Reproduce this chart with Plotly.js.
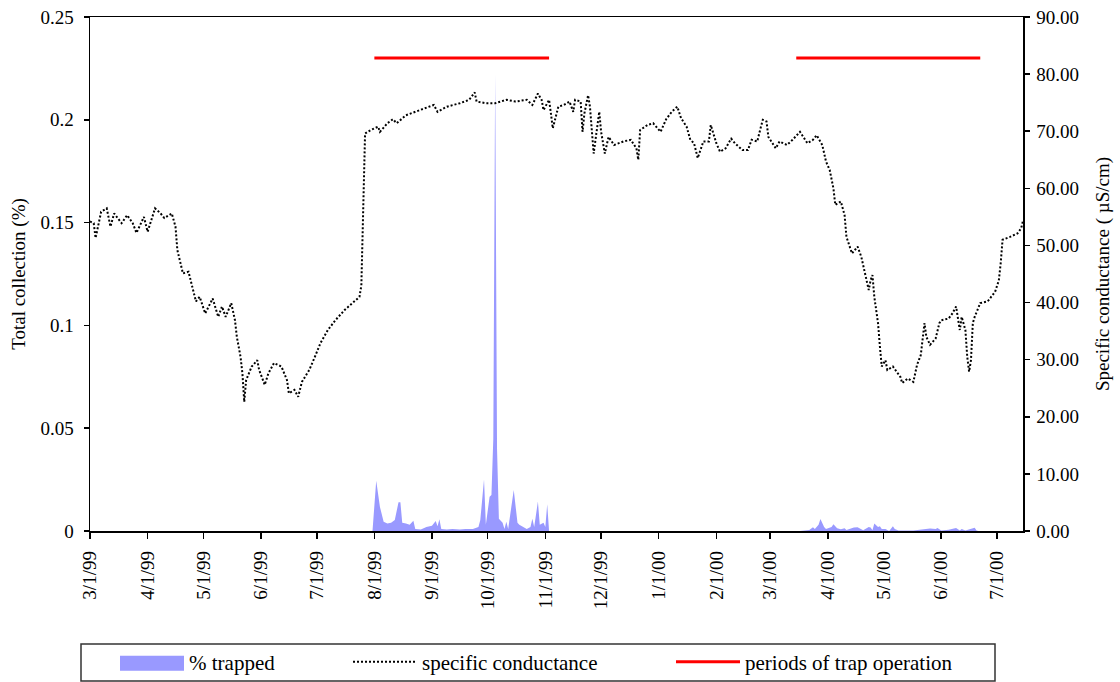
<!DOCTYPE html>
<html><head><meta charset="utf-8">
<script src="https://cdn.plot.ly/plotly-3.0.1.min.js"></script>
<style>html,body{margin:0;padding:0;background:#fff}#chart{width:1120px;height:682px}</style>
</head><body><div id="chart"></div><script>
// ---- data ----
const condDates = ['1999-03-01','1999-03-03','1999-03-04','1999-03-07','1999-03-10','1999-03-12','1999-03-14','1999-03-18','1999-03-21','1999-03-24','1999-03-26','1999-03-30',
'1999-04-01','1999-04-05','1999-04-08','1999-04-10','1999-04-14','1999-04-16','1999-04-17','1999-04-20','1999-04-23','1999-04-25','1999-04-27','1999-04-29',
'1999-05-02','1999-05-06','1999-05-09','1999-05-11','1999-05-13','1999-05-16','1999-05-18','1999-05-19','1999-05-21','1999-05-22','1999-05-23','1999-05-24','1999-05-27','1999-05-30','1999-05-31',
'1999-06-03','1999-06-05','1999-06-08','1999-06-12','1999-06-15','1999-06-16','1999-06-19','1999-06-21','1999-06-23','1999-06-27','1999-06-30',
'1999-07-03','1999-07-07','1999-07-11','1999-07-16','1999-07-20','1999-07-24','1999-07-25','1999-07-26','1999-07-27','1999-07-30',
'1999-08-03','1999-08-04','1999-08-08','1999-08-11','1999-08-13','1999-08-18','1999-08-26',
'1999-09-02','1999-09-04','1999-09-09','1999-09-16','1999-09-21','1999-09-24','1999-09-25','1999-09-30',
'1999-10-05','1999-10-11','1999-10-16','1999-10-22','1999-10-25','1999-10-28','1999-10-30','1999-10-31',
'1999-11-03','1999-11-04','1999-11-05','1999-11-08','1999-11-11','1999-11-14','1999-11-16','1999-11-17','1999-11-20','1999-11-21','1999-11-22','1999-11-24','1999-11-25','1999-11-27','1999-11-28','1999-11-29','1999-11-30',
'1999-12-01','1999-12-03','1999-12-05','1999-12-08','1999-12-13','1999-12-17','1999-12-20','1999-12-21','1999-12-22','1999-12-26','1999-12-29',
'2000-01-02','2000-01-05','2000-01-08','2000-01-11','2000-01-13','2000-01-16','2000-01-18','2000-01-20','2000-01-22','2000-01-25','2000-01-28','2000-01-29',
'2000-02-01','2000-02-03','2000-02-06','2000-02-09','2000-02-11','2000-02-15','2000-02-18','2000-02-20','2000-02-23','2000-02-25','2000-02-26','2000-02-28','2000-02-29',
'2000-03-04','2000-03-06','2000-03-10','2000-03-13','2000-03-17','2000-03-20','2000-03-21','2000-03-24','2000-03-26','2000-03-29','2000-03-31',
'2000-04-02','2000-04-04','2000-04-05','2000-04-08','2000-04-10','2000-04-11','2000-04-14','2000-04-17','2000-04-19','2000-04-21','2000-04-23','2000-04-24','2000-04-25','2000-04-26','2000-04-28','2000-04-29','2000-04-30',
'2000-05-02','2000-05-03','2000-05-06','2000-05-10','2000-05-11','2000-05-14','2000-05-17','2000-05-19','2000-05-21','2000-05-23','2000-05-24','2000-05-26','2000-05-29','2000-05-31',
'2000-06-01','2000-06-05','2000-06-07','2000-06-09','2000-06-11','2000-06-12','2000-06-14','2000-06-15','2000-06-16','2000-06-17','2000-06-18','2000-06-19','2000-06-22','2000-06-26','2000-06-30',
'2000-07-02','2000-07-03','2000-07-04','2000-07-08','2000-07-12','2000-07-14','2000-07-15'];
const condValues = [54.2,53.9,51.3,55.9,56.5,53.3,55.6,53.9,55.3,53.9,52.2,55.0,
52.4,56.5,55.6,54.8,55.6,53.3,49.2,45.1,45.4,42.8,40.2,41.0,
38.1,40.7,37.5,39.3,37.5,39.9,36.9,34.0,30.5,27.6,22.6,26.4,28.8,29.9,28.2,
25.6,27.6,29.4,28.8,26.4,24.1,24.7,23.5,26.1,28.2,30.5,
32.9,35.2,36.9,38.7,39.9,41.0,43.0,55.6,69.6,70.2,
70.8,69.9,71.4,72.1,71.4,72.8,73.8,
74.6,73.4,74.3,74.9,75.5,76.8,75.2,74.9,
74.9,75.5,75.2,75.5,74.6,76.6,75.5,73.7,
75.5,73.1,70.5,74.3,74.6,75.2,73.4,75.5,75.2,69.9,73.1,76.3,74.3,66.1,68.5,71.4,73.4,
69.9,66.1,69.0,67.6,68.2,68.5,67.0,65.0,70.2,71.1,71.4,
69.9,72.1,73.4,74.3,72.3,70.8,68.5,67.9,65.3,68.2,68.2,71.1,
67.9,66.4,67.0,68.7,67.9,66.7,66.7,68.5,68.2,70.8,72.0,71.7,69.0,
67.0,68.2,67.6,68.5,69.9,68.5,67.9,68.5,69.3,67.6,64.7,
63.2,60.0,57.1,57.7,55.3,51.5,48.6,49.8,48.0,45.1,42.2,43.9,44.8,41.0,36.4,32.3,28.8,
29.9,28.2,28.8,27.0,25.9,26.7,26.1,29.1,30.8,36.4,34.0,32.6,33.7,36.4,
36.9,37.2,38.1,39.3,35.2,37.5,35.2,30.5,27.9,29.9,36.4,37.5,39.9,40.2,41.9,
43.9,46.9,51.0,51.5,52.1,53.0,54.3];

const trapDates = ['1999-07-31','1999-08-02','1999-08-04','1999-08-06','1999-08-08','1999-08-10','1999-08-12','1999-08-14','1999-08-15','1999-08-16','1999-08-18','1999-08-20','1999-08-22','1999-08-23','1999-08-26','1999-08-29',
'1999-09-01','1999-09-03','1999-09-04','1999-09-05','1999-09-06','1999-09-09','1999-09-12','1999-09-16','1999-09-19','1999-09-23','1999-09-26','1999-09-27','1999-09-29','1999-09-30',
'1999-10-02','1999-10-03','1999-10-04','1999-10-05','1999-10-06','1999-10-07','1999-10-09','1999-10-10','1999-10-11','1999-10-12','1999-10-15','1999-10-17','1999-10-18','1999-10-22','1999-10-24','1999-10-25','1999-10-26','1999-10-28','1999-10-29','1999-10-31',
'1999-11-01','1999-11-02','1999-11-03',
'2000-03-17','2000-03-22','2000-03-24','2000-03-25','2000-03-27','2000-03-28','2000-03-30','2000-03-31',
'2000-04-03','2000-04-04','2000-04-06','2000-04-08','2000-04-10','2000-04-11','2000-04-15','2000-04-17','2000-04-19','2000-04-20','2000-04-23','2000-04-24','2000-04-25','2000-04-26','2000-04-28','2000-04-29','2000-04-30',
'2000-05-02','2000-05-04','2000-05-06','2000-05-07','2000-05-09','2000-05-17','2000-05-24','2000-05-26','2000-05-29','2000-05-30',
'2000-06-01','2000-06-05','2000-06-09','2000-06-11','2000-06-12','2000-06-14','2000-06-19','2000-06-20','2000-06-21'];
const trapValues = [0,0.0245,0.0117,0.0045,0.0037,0.004,0.0054,0.014,0.014,0.004,0.0037,0.003,0.005,0.001,0.0007,0.002,
0.0025,0.0049,0.0023,0.0057,0.001,0.0007,0.001,0.0007,0.001,0.001,0.002,0.0053,0.025,0.003,
0.0167,0.0175,0.045,0.222,0.04,0.006,0.004,0.001,0.0045,0.001,0.02,0.004,0.003,0.001,0.002,0.006,0.002,0.0143,0.003,0.004,
0.002,0.013,0,
0,0.0005,0.0018,0.001,0.003,0.0058,0.002,0.001,
0.002,0.0033,0.0013,0.0008,0.0013,0.0005,0.0017,0.0018,0.001,0.0004,0.0019,0.0017,0.0004,0.0037,0.002,0.0023,0.001,
0.001,0,0.0023,0.001,0.0002,0.0002,0.001,0.0012,0.001,0.0015,
0.0002,0.0006,0.0015,0.0003,0.001,0.0002,0.0016,0.0002,0];

const periodDates = ['1999-08-01','1999-11-03',null,'2000-03-15','2000-06-22'];
const periodLevel = [0.23,0.23,null,0.23,0.23];

const seriesNames = ['% trapped','specific conductance','periods of trap operation'];
const axisTitles = ['Total collection (%)','Specific conductance ( µS/cm)'];
// -------------------------------------

const FONT = 'Liberation Serif, Times New Roman, serif';

const traces = [
  {type:'scatter', mode:'lines', x:trapDates, y:trapValues, name:seriesNames[0],
   fill:'tozeroy', fillcolor:'#9999ff', line:{width:0, color:'#9999ff'}, yaxis:'y', legend:'legend'},
  {type:'scatter', mode:'lines', x:condDates, y:condValues, name:seriesNames[1],
   line:{color:'#000', width:2, dash:'2px,2px'}, yaxis:'y2', legend:'legend2'},
  {type:'scatter', mode:'lines', x:periodDates, y:periodLevel, name:seriesNames[2],
   line:{color:'#ff0000', width:3}, yaxis:'y', connectgaps:false, legend:'legend3'}
];

const legY = (531-662)/514;
const baseLeg = {orientation:'h', xanchor:'left', yanchor:'middle', y:legY, bgcolor:'rgba(0,0,0,0)',
  borderwidth:0, font:{family:FONT, size:21, color:'#000'}, itemwidth:64};

const layout = {
  width:1120, height:682,
  margin:{l:90, r:97, t:17, b:151, autoexpand:false},
  paper_bgcolor:'#fff', plot_bgcolor:'#fff',
  font:{family:FONT, size:19, color:'#000'},
  showlegend:true,
  xaxis:{type:'date', range:['1999-03-01','2000-07-15'], tick0:'1999-03-01', dtick:'M1',
    tickformat:'%-m/%-d/%y', tickangle:-90, ticks:'outside', ticklen:6, tickwidth:1.5, tickcolor:'#000',
    ticklabelstandoff:5,
    showline:true, linecolor:'#000', linewidth:1.5, mirror:true, showgrid:false, zeroline:false,
    tickfont:{family:FONT, size:19, color:'#000'}},
  yaxis:{range:[0,0.25], tick0:0, dtick:0.05, ticks:'outside', ticklen:5, tickwidth:1.5, tickcolor:'#000',
    ticklabelstandoff:6,
    showline:true, linecolor:'#000', linewidth:1.5, showgrid:false, zeroline:false,
    tickfont:{family:FONT, size:19, color:'#000'},
    title:{text:axisTitles[0], font:{family:FONT, size:19, color:'#000'}, standoff:10}},
  yaxis2:{overlaying:'y', side:'right', range:[0,90], tick0:0, dtick:10, tickformat:'.2f',
    ticks:'outside', ticklen:5, tickwidth:1.5, tickcolor:'#000', ticklabelstandoff:3,
    showline:true, linecolor:'#000', linewidth:1.5, showgrid:false, zeroline:false,
    tickfont:{family:FONT, size:19, color:'#000'},
    title:{text:axisTitles[1], font:{family:FONT, size:19, color:'#000'}, standoff:17}},
  legend:Object.assign({}, baseLeg, {x:(115-90)/933}),
  legend2:Object.assign({}, baseLeg, {x:(348-90)/933}),
  legend3:Object.assign({}, baseLeg, {x:(671-90)/933}),
  shapes:[{type:'rect', xref:'paper', yref:'paper', x0:(81-90)/933, x1:(995-90)/933,
    y0:(531-681)/514, y1:(531-644)/514, line:{color:'#333', width:1.5}, fillcolor:'rgba(0,0,0,0)'}]
};

Plotly.newPlot('chart', traces, layout, {displayModeBar:false, staticPlot:true}).then(function(gd){
  // make the area legend swatch a full-height block like the reference
  gd.querySelectorAll('.legendfill path').forEach(function(p){
    var b = p.getBBox();
    if (b.width > 0) p.setAttribute('d', 'M' + b.x + ',-6h' + b.width + 'v15h-' + b.width + 'z');
  });
});
</script></body></html>
